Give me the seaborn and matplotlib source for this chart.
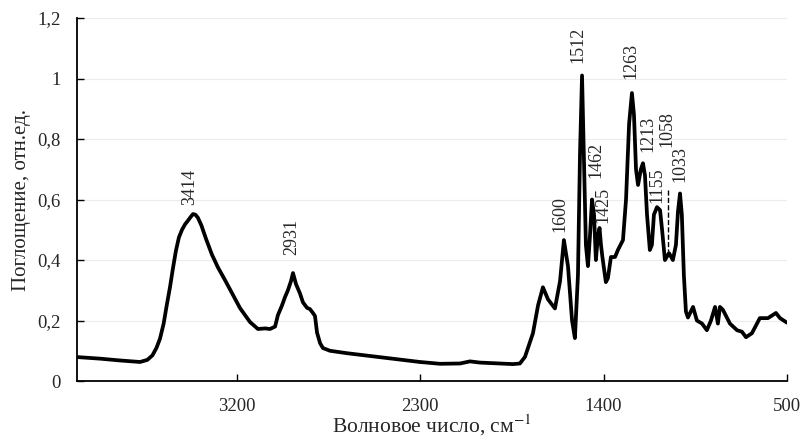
import numpy as np
import pandas as pd
import matplotlib
matplotlib.use("Agg")
import matplotlib.pyplot as plt
from matplotlib.ticker import FuncFormatter
import seaborn as sns

## Spectrum data
wavenumber = [
    3980, 3872, 3774, 3676, 3640, 3615, 3595, 3578, 3560, 3545, 3529, 3515,
    3500, 3485, 3470, 3455, 3441, 3428, 3416, 3404, 3392, 3375, 3352, 3323,
    3293, 3259, 3224, 3185, 3136, 3097, 3062,
    3038, 3013, 2999, 2979, 2964, 2950, 2935, 2925, 2910, 2891, 2876, 2856,
    2842, 2827, 2817, 2807, 2792, 2778, 2743, 2660, 2498, 2302, 2203, 2105,
    2056, 2007, 1909, 1845, 1811, 1786, 1747, 1722, 1698, 1673, 1639, 1614,
    1595, 1575, 1555, 1541, 1526, 1516, 1506, 1497, 1487, 1477, 1467, 1457,
    1447, 1438, 1428, 1420, 1413, 1406, 1389, 1379, 1364, 1344, 1330, 1305,
    1290, 1275, 1261, 1251, 1241, 1231, 1217, 1207, 1197, 1187, 1173, 1163,
    1153, 1138, 1123, 1113, 1099, 1079, 1060, 1045, 1035, 1025, 1016, 1006,
    996, 986, 961, 942, 917, 893, 873, 853, 839, 829, 814, 780,
    745, 721, 701, 672, 633, 593, 554, 534, 500,
]
absorbance = [
    0.079, 0.074, 0.068, 0.063, 0.070, 0.085, 0.110, 0.140, 0.190, 0.250, 0.310, 0.370,
    0.430, 0.475, 0.500, 0.518, 0.530, 0.542, 0.552, 0.550, 0.540, 0.515, 0.470, 0.418,
    0.375, 0.334, 0.290, 0.241, 0.195, 0.172, 0.174,
    0.172, 0.180, 0.218, 0.250, 0.278, 0.300, 0.330, 0.357, 0.320, 0.290, 0.260, 0.242,
    0.238, 0.225, 0.215, 0.160, 0.125, 0.109, 0.100, 0.092, 0.079, 0.063, 0.057, 0.058,
    0.065, 0.061, 0.058, 0.056, 0.058, 0.080, 0.158, 0.250, 0.310, 0.270, 0.240, 0.330,
    0.466, 0.380, 0.200, 0.142, 0.350, 0.750, 1.010, 0.750, 0.450, 0.380, 0.480, 0.600,
    0.550, 0.400, 0.480, 0.506, 0.450, 0.410, 0.327, 0.340, 0.410, 0.410, 0.433, 0.466,
    0.600, 0.850, 0.952, 0.880, 0.700, 0.648, 0.700, 0.720, 0.680, 0.550, 0.433, 0.450,
    0.550, 0.575, 0.565, 0.500, 0.400, 0.423, 0.400, 0.450, 0.560, 0.620, 0.550, 0.350,
    0.230, 0.210, 0.245, 0.200, 0.190, 0.168, 0.200, 0.245, 0.190, 0.245, 0.235, 0.190,
    0.168, 0.163, 0.145, 0.158, 0.208, 0.208, 0.225, 0.208, 0.193,
]

## Peak labels
peak_text = ["3414", "2931", "1600", "1512", "1462", "1425", "1263", "1213", "1155", "1058", "1033"]
peak_x = [3431, 2930, 1614, 1526, 1438, 1403, 1266, 1182, 1138, 1089, 1025]
peak_y = [0.582, 0.417, 0.493, 1.051, 0.671, 0.522, 1.000, 0.757, 0.588, 0.774, 0.658]

x_ticks = [3200, 2300, 1400, 500]
y_ticks = [0, 0.2, 0.4, 0.6, 0.8, 1.0, 1.2]

df = pd.DataFrame({"wn": wavenumber, "A": absorbance})

sns.set_theme(style="white")
plt.rcParams["font.family"] = ["Liberation Serif", "DejaVu Serif"]
plt.rcParams["mathtext.fontset"] = "stix"

fig, ax = plt.subplots(figsize=(8.03, 4.40), dpi=100)
fig.subplots_adjust(left=0.096, right=0.98, bottom=0.134, top=0.959)

sns.lineplot(data=df, x="wn", y="A", color="black", linewidth=2.7, ax=ax, sort=False)
ax.lines[0].set_solid_joinstyle("round")

for t, px, py in zip(peak_text, peak_x, peak_y):
    ax.text(px, py, t, rotation=90, ha="center", va="bottom", fontsize=13)

# leader line for 1058
ax.plot([1084, 1084], [0.63, 0.43], color="black", linestyle="--", linewidth=1)

ax.set_xlim(3985, 500)
ax.set_ylim(0, 1.2)
ax.set_xticks(x_ticks)
ax.set_yticks(y_ticks)
ax.yaxis.set_major_formatter(FuncFormatter(lambda v, p: f"{v:g}".replace(".", ",")))

ax.yaxis.grid(True, color="#ececec", linewidth=0.8)
ax.set_axisbelow(True)
for s in ["top", "right"]:
    ax.spines[s].set_visible(False)
for s in ["left", "bottom"]:
    ax.spines[s].set_color("black")
    ax.spines[s].set_linewidth(1.3)
ax.tick_params(axis="both", direction="in", length=5, width=1, color="black",
               labelsize=13.5, left=True, bottom=True)
ax.tick_params(axis="x", pad=12)
ax.tick_params(axis="y", pad=12)

ax.set_xlabel("Волновое число, см$^{-1}$", fontsize=15.5, va="baseline")
ax.xaxis.set_label_coords(0.5, -0.143)
ax.set_ylabel("Поглощение, отн.ед.", fontsize=15, labelpad=4)

plt.savefig("out.png", dpi=100)
